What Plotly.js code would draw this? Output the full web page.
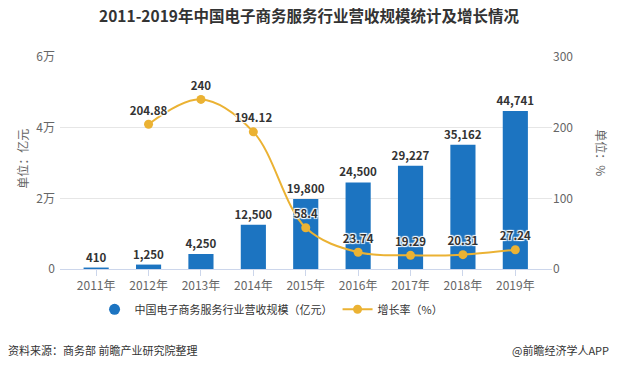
<!DOCTYPE html>
<html>
<head>
<meta charset="utf-8">
<script src="https://cdn.plot.ly/plotly-3.0.1.min.js"></script>
<style>html,body{margin:0;padding:0;background:#fff;}#chart{width:618px;height:370px;}</style>
</head>
<body>
<div id="chart"></div>
<script>
const years = ['2011年','2012年','2013年','2014年','2015年','2016年','2017年','2018年','2019年'];
const revenue = [410, 1250, 4250, 12500, 19800, 24500, 29227, 35162, 44741];
const growthYears = ['2012年','2013年','2014年','2015年','2016年','2017年','2018年','2019年'];
const growth = [204.88, 240, 194.12, 58.4, 23.74, 19.29, 20.31, 27.24];
const leftTickVals = [0, 20000, 40000, 60000];
const leftTickText = ['0', '2万', '4万', '6万'];
const rightTickVals = [0, 100, 200, 300];

const FONT = '"Noto Sans CJK SC", "Noto Sans", sans-serif';
const BLUE = '#1c74c1';
const GOLD = '#ebb233';
const halo = '1px 1px 1px #fff, -1px -1px 1px #fff, 1px -1px 1px #fff, -1px 1px 1px #fff';

const traces = [
  {
    type: 'bar', x: years, y: revenue, name: '中国电子商务服务行业营收规模（亿元）',
    marker: {color: BLUE}, width: 0.48, showlegend: false,
    texttemplate: '%{y:,}', textposition: 'outside', cliponaxis: false, constraintext: 'none',
    textfont: {family: FONT, size: 11.5, color: '#333', weight: 'bold'}
  },
  {
    type: 'scatter', mode: 'lines+markers+text', x: growthYears, y: growth, yaxis: 'y2',
    name: '增长率（%）', line: {color: GOLD, width: 2, shape: 'spline', smoothing: 1},
    marker: {color: GOLD, size: 9}, texttemplate: '%{y}', textposition: 'top center', cliponaxis: false,
    textfont: {family: FONT, size: 11.5, color: '#333', weight: 'bold', shadow: halo}
  },
  {
    type: 'scatter', mode: 'markers', x: [null], y: [null], name: '中国电子商务服务行业营收规模（亿元）',
    marker: {color: BLUE, size: 11, symbol: 'circle'}, showlegend: true
  }
];

const layout = {
  width: 618, height: 370,
  margin: {l: 60, r: 66, t: 57, b: 101},
  paper_bgcolor: '#fff', plot_bgcolor: '#fff',
  font: {family: FONT, size: 12, color: '#666'},
  title: {text: '<b>2011-2019年中国电子商务服务行业营收规模统计及增长情况</b>', x: 0.5, xanchor: 'center', y: 0.955, yanchor: 'middle',
          font: {family: FONT, size: 15.5, color: '#333'}},
  showlegend: true,
  legend: {orientation: 'h', x: 0.43, xanchor: 'center', y: -0.19, yanchor: 'middle', traceorder: 'reversed',
           itemwidth: 30,
           font: {family: FONT, size: 11, color: '#333'}},
  xaxis: {type: 'category', categoryorder: 'array', categoryarray: years, range: [-0.69, 8.7],
          showgrid: false, showline: true, linecolor: '#ccd6eb', linewidth: 1,
          ticks: 'outside', ticklen: 6, tickcolor: '#ccd6eb', tickfont: {family: FONT, size: 12, color: '#666'}, fixedrange: true},
  yaxis: {range: [0, 60000], tickvals: leftTickVals, ticktext: leftTickText, showgrid: true, gridcolor: '#e6e6e6',
          zeroline: false, showline: false, ticks: '', ticklabelstandoff: 4, tickfont: {family: FONT, size: 12, color: '#666'}},
  yaxis2: {range: [0, 300], tickvals: rightTickVals, overlaying: 'y', side: 'right', showgrid: false, zeroline: false,
           showline: false, tickfont: {family: FONT, size: 12, color: '#666'}},
  bargap: 0.5,
  annotations: [
    {text: '单位：亿元', textangle: -90, xref: 'paper', yref: 'paper', x: -0.075, y: 0.52, xanchor: 'center', yanchor: 'middle', showarrow: false,
     font: {family: FONT, size: 12, color: '#666'}},
    {text: '单位：%', textangle: 90, xref: 'paper', yref: 'paper', x: 1.1, y: 0.55, xanchor: 'center', yanchor: 'middle', showarrow: false,
     font: {family: FONT, size: 12, color: '#666'}},
    {text: '资料来源：商务部 前瞻产业研究院整理', xref: 'paper', yref: 'paper', x: -0.11, y: -0.383, xanchor: 'left', yanchor: 'middle', showarrow: false,
     font: {family: FONT, size: 11, color: '#333'}},
    {text: '@前瞻经济学人APP', xref: 'paper', yref: 'paper', x: 1.12, y: -0.383, xanchor: 'right', yanchor: 'middle', showarrow: false,
     font: {family: FONT, size: 11, color: '#333'}}
  ]
};

Plotly.newPlot('chart', traces, layout, {staticPlot: true, displayModeBar: false});
</script>
</body>
</html>
